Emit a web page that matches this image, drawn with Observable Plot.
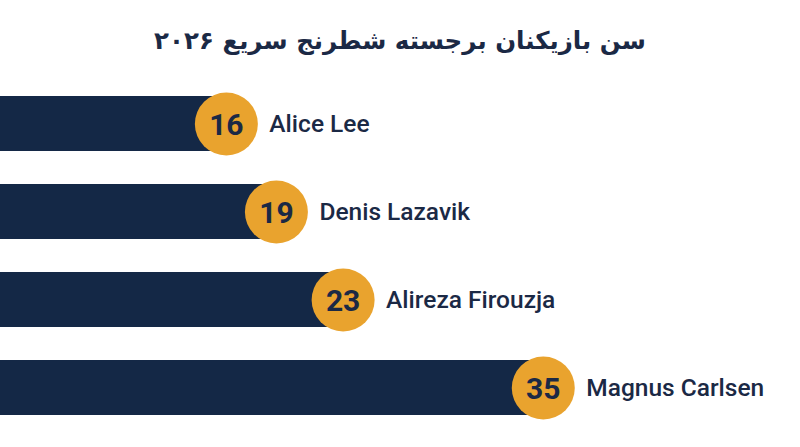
<!DOCTYPE html>
<html>
<head>
<meta charset="utf-8">
<script src="https://cdn.jsdelivr.net/npm/d3@7"></script>
<script src="https://cdn.jsdelivr.net/npm/@observablehq/plot@0.6"></script>
<style>
  html, body { margin: 0; padding: 0; background: #ffffff; width: 800px; height: 447px; overflow: hidden; }
  #title { height: 78px; display: flex; align-items: center; justify-content: center; direction: rtl;
    font-family: "DejaVu Sans", sans-serif; font-weight: bold; font-size: 24.5px; color: #1b2945; padding-top: 2px; box-sizing: border-box; }
  #chart svg { display: block; }
</style>
</head>
<body>
<div id="title">سن بازیکنان برجسته شطرنج سریع ۲۰۲۶</div>
<div id="chart"></div>
<script>
const players = ["Alice Lee", "Denis Lazavik", "Alireza Firouzja", "Magnus Carlsen"];
const ages = [16, 19, 23, 35];

const data = players.map((name, i) => ({ name, age: ages[i] }));

const navy = "#142846";
const gold = "#E9A32E";
const ink = "#1b2945";

const plot = Plot.plot({
  width: 800,
  height: 369,
  marginLeft: 0,
  marginRight: 0,
  marginTop: 16,
  marginBottom: 30.5,
  style: { fontFamily: "Roboto, sans-serif", background: "transparent" },
  x: { domain: [0, 48], range: [-54, 746.6], axis: null },
  y: { domain: players, paddingInner: 0.37, paddingOuter: 0, axis: null },
  marks: [
    Plot.barX(data, { x1: 0, x2: "age", y: "name", fill: navy }),
    Plot.dot(data, { x: "age", y: "name", r: 31.5, fill: gold, stroke: "none", dx: 13 }),
    Plot.text(data, { x: "age", y: "name", text: d => String(d.age), dx: 13, dy: 1, fill: ink,
      fontSize: 30, fontWeight: "bold", textAnchor: "middle" }),
    Plot.text(data, { x: "age", y: "name", text: "name", dx: 56, fill: ink,
      fontSize: 24.5, fontWeight: 500, textAnchor: "start" })
  ]
});
document.getElementById("chart").appendChild(plot);
</script>
</body>
</html>
